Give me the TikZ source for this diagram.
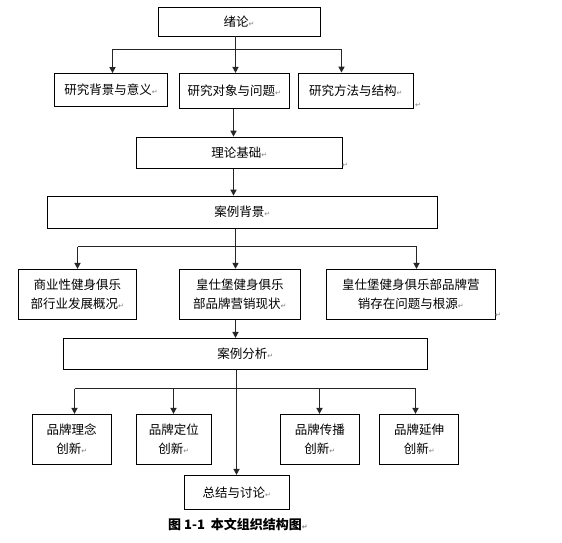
\documentclass[tikz,border=0pt]{standalone}
\usepackage{fontspec}
\newfontfamily\cjk{Noto Sans CJK SC}
\newfontfamily\symfont{DejaVu Sans}
\usetikzlibrary{arrows.meta}
\newcommand\pmk{{\symfont\fontsize{7}{7}\selectfont\color{gray}↵}}
\tikzset{
  box/.style={draw=black, line width=0.8pt, fill=white, inner sep=1pt, align=center,
    font=\cjk\fontsize{12.5}{19}\selectfont},
  conn/.style={draw=black!85, line width=1.5pt},
  arr/.style={conn, -{Triangle[length=6pt,width=6pt]}},
}
\begin{document}
\begin{tikzpicture}[x=1pt,y=-1pt]
\useasboundingbox (0,0) rectangle (562,543);
\fill[white] (0,0) rectangle (562,543);
% nodes
\node[box, minimum width=162pt, minimum height=29pt] (xl) at (239,21.5) {绪论\pmk};
\node[box, minimum width=113.4pt, minimum height=33pt] (r1) at (111,90) {研究背景与意义\pmk};
\node[box, minimum width=110.3pt, minimum height=35pt] (r2) at (234.2,90.8) {研究对象与问题\pmk};
\node[box, minimum width=115.3pt, minimum height=35pt] (r3) at (355.7,90.5) {研究方法与结构\pmk};
\node[box, minimum width=205.7pt, minimum height=31.3pt] (ll) at (239.2,152.7) {理论基础\pmk};
\node[box, minimum width=390.7pt, minimum height=32.3pt] (bj) at (242.3,212.2) {案例背景\pmk};
\node[box, minimum width=118pt, minimum height=50pt] (c1) at (77.3,294.3) {商业性健身俱乐\\部行业发展概况\pmk};
\node[box, minimum width=121.7pt, minimum height=50pt] (c2) at (239.8,294.2) {皇仕堡健身俱乐\\部品牌营销现状\pmk};
\node[box, minimum width=168.3pt, minimum height=50pt] (c3) at (410.8,294.3) {皇仕堡健身俱乐部品牌营\\销存在问题与根源\pmk};
\node[box, minimum width=364pt, minimum height=31pt] (fx) at (245.3,353.8) {案例分析\pmk};
\node[box, minimum width=78.7pt, minimum height=50pt] (d1) at (71.7,439.3) {品牌理念\\创新\pmk};
\node[box, minimum width=75.7pt, minimum height=50pt] (d2) at (173.8,439.3) {品牌定位\\创新\pmk};
\node[box, minimum width=79pt, minimum height=50pt] (d3) at (319.8,439.3) {品牌传播\\创新\pmk};
\node[box, minimum width=79pt, minimum height=50pt] (d4) at (419.2,439.3) {品牌延伸\\创新\pmk};
\node[box, minimum width=105pt, minimum height=34pt] (zj) at (236.8,492.3) {总结与讨论\pmk};
\node[font=\cjk\bfseries\fontsize{13}{13}\selectfont] (cap) at (238,524) {图 1-1\ \ 本文组织结构图\pmk};
% free paragraph marks
\node[inner sep=0pt] (m1) at (418,105) {\pmk};
\node[inner sep=0pt] (m2) at (345,165) {\pmk};
\node[inner sep=0pt] (m3) at (498,315) {\pmk};
% bus coordinates
\coordinate (b1l) at (112.5,49.5);
\coordinate (b1m) at (235.5,49.5);
\coordinate (b1r) at (341.5,49.5);
\coordinate (b2l) at (77.5,246.5);
\coordinate (b2m) at (235.5,246.5);
\coordinate (b2r) at (416.5,246.5);
\coordinate (b3l) at (74.5,388.5);
\coordinate (b3a) at (173.5,388.5);
\coordinate (b3m) at (236.5,388.5);
\coordinate (b3b) at (319.5,388.5);
\coordinate (b3r) at (415.5,388.5);
\coordinate (vx) at (233.5,0);
% connectors
\draw[conn] (xl.south -| b1m) -- (b1m);
\draw[conn] (b1l) -- (b1r);
\draw[arr] (b1l) -- (b1l |- r1.north);
\draw[arr] (b1m) -- (b1m |- r2.north);
\draw[arr] (b1r) -- (b1r |- r3.north);
\draw[arr] (r2.south -| vx) -- (ll.north -| vx);
\draw[arr] (ll.south -| vx) -- (bj.north -| vx);
\draw[conn] (bj.south -| b2m) -- (b2m);
\draw[conn] (b2l) -- (b2r);
\draw[arr] (b2l) -- (b2l |- c1.north);
\draw[arr] (b2m) -- (b2m |- c2.north);
\draw[arr] (b2r) -- (b2r |- c3.north);
\draw[arr] (c2.south -| b2m) -- (fx.north -| b2m);
\draw[arr] (fx.south -| b3m) -- (zj.north -| b3m);
\draw[conn] (b3l) -- (b3r);
\draw[arr] (b3l) -- (b3l |- d1.north);
\draw[arr] (b3a) -- (b3a |- d2.north);
\draw[arr] (b3b) -- (b3b |- d3.north);
\draw[arr] (b3r) -- (b3r |- d4.north);
\end{tikzpicture}
\end{document}
